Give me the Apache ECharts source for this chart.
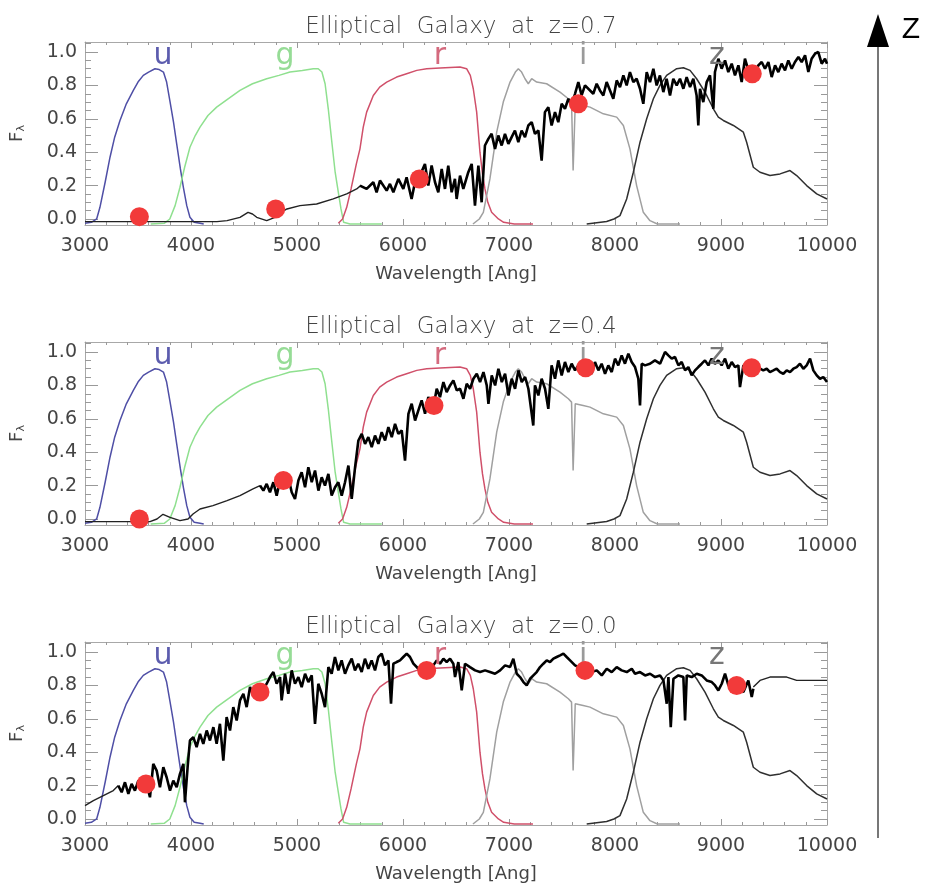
<!DOCTYPE html>
<html>
<head>
<meta charset="utf-8">
<script src="https://cdn.jsdelivr.net/npm/echarts@6/dist/echarts.min.js"></script>
<style>html,body{margin:0;padding:0;background:#fff;}#c{width:929px;height:891px;}</style>
</head>
<body>
<div id="c"></div>
<script>
// ---------- DATA ----------
const xTicks = [3000, 4000, 5000, 6000, 7000, 8000, 9000, 10000];
const yTicks = [0, 0.2, 0.4, 0.6, 0.8, 1.0];
const titles = ['Elliptical  Galaxy  at  z=0.7', 'Elliptical  Galaxy  at  z=0.4', 'Elliptical  Galaxy  at  z=0.0'];
const filterNames = ['u', 'g', 'r', 'i', 'z'];
const filterLabelPos = [[3736, 0.975], [4887, 0.975], [6349, 0.975], [7699, 0.975], [8962, 0.975]];

const filterU = [[3000,-0.025],[3060,-0.02],[3110,0.0],[3141,0.07],[3190,0.22],[3236,0.37],[3280,0.49],[3330,0.59],[3390,0.69],[3456,0.77],[3500,0.82],[3550,0.86],[3600,0.88],[3660,0.90],[3700,0.895],[3740,0.88],[3770,0.82],[3800,0.71],[3835,0.58],[3865,0.45],[3900,0.30],[3928,0.19],[3960,0.08],[3990,0.01],[4030,-0.02],[4085,-0.025],[4120,-0.03]];
const filterG = [[3620,-0.03],[3750,-0.025],[3800,0.0],[3850,0.08],[3896,0.19],[3940,0.31],[3990,0.43],[4040,0.50],[4085,0.55],[4160,0.62],[4242,0.67],[4350,0.72],[4462,0.77],[4580,0.81],[4714,0.84],[4830,0.86],[4934,0.88],[5050,0.89],[5154,0.90],[5200,0.90],[5235,0.88],[5265,0.81],[5295,0.66],[5327,0.47],[5360,0.28],[5390,0.16],[5415,0.06],[5440,-0.02],[5500,-0.03],[5800,-0.03]];
const filterR = [[5390,-0.025],[5430,0.0],[5469,0.07],[5510,0.18],[5560,0.33],[5594,0.42],[5625,0.55],[5657,0.64],[5720,0.74],[5780,0.79],[5846,0.82],[5940,0.85],[6034,0.87],[6130,0.89],[6223,0.90],[6350,0.905],[6538,0.91],[6600,0.90],[6635,0.86],[6663,0.78],[6695,0.64],[6726,0.40],[6750,0.27],[6773,0.18],[6800,0.10],[6836,0.04],[6900,0.0],[6950,-0.02],[7050,-0.03],[7226,-0.03]];
const filterI = [[6660,-0.03],[6720,0.0],[6758,0.04],[6820,0.24],[6884,0.52],[6946,0.70],[7010,0.82],[7060,0.88],[7088,0.90],[7119,0.88],[7151,0.84],[7182,0.81],[7214,0.84],[7261,0.82],[7355,0.81],[7481,0.76],[7560,0.72],[7590,0.70],[7605,0.29],[7625,0.69],[7700,0.68],[7764,0.67],[7890,0.63],[8016,0.61],[8079,0.56],[8141,0.42],[8204,0.20],[8267,0.04],[8330,-0.01],[8400,-0.03],[8613,-0.03]];
const filterZ = [[7733,-0.03],[7921,-0.015],[7990,0.0],[8047,0.02],[8110,0.12],[8173,0.28],[8236,0.46],[8299,0.60],[8362,0.72],[8424,0.80],[8487,0.86],[8582,0.90],[8645,0.906],[8708,0.89],[8770,0.84],[8849,0.76],[8928,0.66],[8975,0.61],[9022,0.59],[9117,0.56],[9211,0.52],[9242,0.46],[9305,0.31],[9368,0.28],[9462,0.26],[9557,0.27],[9651,0.29],[9714,0.26],[9808,0.20],[9903,0.15],[10000,0.12]];

// z = 0.7
const spec07Thin = [[3000,-0.016],[4245,-0.016],[4340,-0.01],[4462,0.01],[4538,0.04],[4580,0.03],[4620,0.01],[4714,-0.01],[4792,0.01],[4850,0.04],[4905,0.06],[5028,0.08],[5185,0.09],[5342,0.12],[5469,0.15],[5563,0.18],[5600,0.20]];
const spec07Thick = [[5594,0.20],[5657,0.18],[5720,0.22],[5751,0.16],[5783,0.23],[5846,0.17],[5877,0.21],[5909,0.16],[5956,0.24],[6003,0.18],[6034,0.25],[6081,0.12],[6113,0.22],[6160,0.26],[6207,0.33],[6239,0.20],[6270,0.32],[6302,0.22],[6333,0.16],[6365,0.30],[6396,0.18],[6427,0.32],[6459,0.16],[6490,0.24],[6506,0.12],[6538,0.26],[6569,0.18],[6616,0.28],[6648,0.33],[6679,0.08],[6711,0.32],[6742,0.10],[6773,0.44],[6805,0.48],[6836,0.51],[6868,0.42],[6899,0.50],[6931,0.44],[6962,0.51],[6994,0.45],[7025,0.49],[7056,0.53],[7088,0.46],[7119,0.53],[7151,0.49],[7182,0.56],[7214,0.58],[7245,0.51],[7277,0.53],[7308,0.35],[7339,0.64],[7371,0.67],[7402,0.56],[7434,0.64],[7465,0.58],[7497,0.69],[7528,0.66],[7560,0.72],[7591,0.68],[7623,0.75],[7654,0.82],[7685,0.74],[7717,0.80],[7795,0.75],[7827,0.81],[7858,0.77],[7890,0.74],[7921,0.82],[7953,0.77],[7984,0.72],[8016,0.83],[8047,0.79],[8079,0.86],[8110,0.80],[8141,0.88],[8173,0.82],[8204,0.84],[8236,0.78],[8267,0.69],[8299,0.88],[8330,0.82],[8362,0.90],[8393,0.80],[8424,0.86],[8456,0.76],[8487,0.84],[8519,0.74],[8550,0.84],[8582,0.80],[8613,0.84],[8645,0.78],[8676,0.85],[8708,0.79],[8739,0.84],[8770,0.74],[8786,0.56],[8802,0.78],[8833,0.70],[8865,0.82],[8896,0.86],[8928,0.66],[8943,0.88],[8975,0.96],[9006,0.90],[9038,0.95],[9069,0.88],[9101,0.93],[9132,0.86],[9164,0.92],[9195,0.82],[9226,0.96],[9258,0.89],[9305,0.85],[9352,0.92],[9384,0.94],[9415,0.90],[9447,0.94],[9478,0.85],[9510,0.92],[9541,0.88],[9572,0.93],[9604,0.89],[9635,0.95],[9667,0.90],[9698,0.94],[9730,0.97],[9761,0.94],[9793,0.98],[9824,0.88],[9855,0.96],[9887,0.99],[9918,1.00],[9950,0.93],[9981,0.96],[10000,0.93]];
const dots07 = [[3513,0.014],[4799,0.06],[6154,0.24],[7654,0.69],[9295,0.87]];

// z = 0.4
const spec04Thin = [[3000,-0.016],[3613,-0.016],[3679,0.0],[3736,0.028],[3802,0.01],[3896,-0.01],[3972,0.0],[4019,0.03],[4085,0.06],[4207,0.08],[4340,0.11],[4462,0.14],[4585,0.18],[4651,0.20]];
const spec04Thick = [[4651,0.20],[4683,0.17],[4714,0.21],[4745,0.16],[4777,0.22],[4808,0.14],[4840,0.23],[4887,0.19],[4918,0.25],[4950,0.16],[4981,0.12],[5013,0.23],[5044,0.28],[5076,0.19],[5107,0.31],[5139,0.22],[5170,0.29],[5202,0.17],[5233,0.25],[5264,0.20],[5296,0.27],[5327,0.14],[5359,0.19],[5390,0.22],[5422,0.14],[5453,0.22],[5485,0.32],[5516,0.12],[5548,0.31],[5579,0.47],[5611,0.51],[5642,0.45],[5673,0.49],[5705,0.43],[5736,0.50],[5768,0.45],[5799,0.52],[5831,0.47],[5862,0.55],[5894,0.49],[5925,0.57],[5956,0.51],[5988,0.53],[6019,0.35],[6051,0.63],[6082,0.69],[6114,0.59],[6145,0.65],[6176,0.71],[6208,0.63],[6239,0.73],[6287,0.67],[6318,0.78],[6349,0.73],[6381,0.82],[6412,0.76],[6444,0.80],[6475,0.83],[6507,0.77],[6538,0.78],[6570,0.72],[6601,0.81],[6633,0.78],[6664,0.84],[6696,0.87],[6727,0.82],[6759,0.88],[6790,0.80],[6806,0.69],[6837,0.86],[6869,0.80],[6900,0.90],[6932,0.82],[6963,0.87],[6995,0.74],[7026,0.84],[7057,0.78],[7089,0.89],[7120,0.82],[7152,0.85],[7183,0.78],[7198,0.78],[7229,0.56],[7245,0.80],[7277,0.74],[7308,0.84],[7340,0.78],[7371,0.66],[7402,0.92],[7434,0.84],[7465,0.95],[7497,0.86],[7528,0.94],[7560,0.88],[7591,0.93],[7623,0.89],[7654,0.92],[7717,0.90],[7780,0.87],[7811,0.94],[7843,0.89],[7874,0.93],[7906,0.87],[7937,0.92],[7969,0.88],[8000,0.96],[8031,0.92],[8063,0.98],[8094,0.93],[8126,0.99],[8157,0.94],[8189,0.91],[8220,0.84],[8236,0.68],[8252,0.93],[8283,0.92],[8330,0.93],[8377,0.95],[8425,0.93],[8472,1.00],[8503,0.98],[8535,0.96],[8566,0.97],[8598,0.92],[8629,0.94],[8661,0.89],[8692,0.91],[8723,0.86],[8755,0.89],[8786,0.91],[8818,0.93],[8849,0.95],[8881,0.92],[8912,0.96],[8943,0.93],[8975,0.95],[9006,0.92],[9038,0.96],[9069,0.90],[9101,0.94],[9132,0.91],[9164,0.92],[9179,0.79],[9211,0.92],[9290,0.90],[9368,0.90],[9399,0.89],[9431,0.90],[9462,0.88],[9494,0.89],[9525,0.90],[9557,0.88],[9588,0.87],[9620,0.89],[9651,0.88],[9683,0.90],[9714,0.91],[9745,0.93],[9777,0.90],[9808,0.92],[9840,0.96],[9871,0.89],[9903,0.86],[9934,0.84],[9965,0.85],[10000,0.82]];
const dots04 = [[3513,0.0],[4871,0.23],[6292,0.68],[7723,0.906],[9289,0.906]];

// z = 0.0
const spec00ThinL = [[3000,0.08],[3079,0.11],[3173,0.14],[3267,0.17],[3314,0.20]];
const spec00Thick = [[3314,0.20],[3346,0.16],[3377,0.22],[3409,0.15],[3440,0.21],[3471,0.17],[3503,0.23],[3534,0.18],[3581,0.21],[3613,0.13],[3644,0.33],[3676,0.29],[3707,0.19],[3739,0.31],[3770,0.25],[3802,0.17],[3833,0.23],[3865,0.19],[3896,0.27],[3928,0.33],[3943,0.10],[3968,0.31],[3990,0.47],[4022,0.49],[4053,0.43],[4085,0.51],[4116,0.45],[4148,0.53],[4179,0.47],[4211,0.55],[4242,0.45],[4273,0.57],[4305,0.35],[4336,0.61],[4368,0.53],[4399,0.67],[4431,0.59],[4462,0.71],[4494,0.75],[4525,0.67],[4557,0.79],[4588,0.74],[4651,0.76],[4714,0.81],[4745,0.85],[4777,0.88],[4808,0.81],[4840,0.85],[4855,0.71],[4887,0.87],[4918,0.75],[4950,0.89],[4981,0.81],[5013,0.85],[5044,0.79],[5076,0.87],[5107,0.82],[5139,0.86],[5170,0.57],[5201,0.81],[5233,0.75],[5264,0.67],[5296,0.91],[5327,0.87],[5358,0.97],[5390,0.89],[5421,0.95],[5453,0.87],[5484,0.92],[5516,0.96],[5547,0.89],[5578,0.93],[5610,0.88],[5641,0.96],[5673,0.90],[5704,0.95],[5736,0.89],[5767,0.97],[5799,0.99],[5830,0.92],[5862,0.95],[5887,0.69],[5909,0.93],[5940,0.94],[5972,0.95],[6003,0.97],[6035,0.99],[6066,0.97],[6098,0.93],[6145,0.90],[6224,0.89],[6255,0.87],[6286,0.92],[6318,0.95],[6349,0.93],[6381,0.96],[6412,0.94],[6444,0.96],[6475,0.93],[6491,0.85],[6522,0.94],[6554,0.77],[6585,0.93],[6632,0.91],[6680,0.89],[6727,0.88],[6774,0.89],[6821,0.88],[6868,0.87],[6916,0.89],[6963,0.92],[7010,0.91],[7041,0.96],[7073,0.87],[7104,0.85],[7136,0.82],[7167,0.80],[7199,0.84],[7230,0.86],[7261,0.88],[7293,0.91],[7324,0.93],[7356,0.95],[7387,0.94],[7419,0.96],[7450,0.97],[7482,0.98],[7513,0.99],[7544,0.97],[7576,0.95],[7623,0.92],[7717,0.89],[7780,0.88],[7828,0.89],[7875,0.86],[7922,0.90],[7969,0.88],[8016,0.91],[8063,0.89],[8111,0.88],[8158,0.90],[8189,0.87],[8236,0.88],[8284,0.86],[8331,0.87],[8378,0.85],[8425,0.86],[8457,0.83],[8488,0.69],[8504,0.85],[8526,0.55],[8551,0.84],[8598,0.86],[8645,0.85],[8661,0.59],[8677,0.86],[8724,0.85],[8771,0.87],[8818,0.86],[8865,0.83],[8913,0.82],[8944,0.80],[8975,0.77],[9007,0.81],[9038,0.87],[9070,0.80],[9148,0.79],[9211,0.76],[9258,0.83],[9290,0.73],[9305,0.78]];
const spec00ThinR = [[9305,0.79],[9368,0.83],[9462,0.85],[9620,0.85],[9714,0.83],[9840,0.83],[10000,0.83]];
const dots00 = [[3575,0.21],[4651,0.76],[6223,0.89],[7717,0.89],[9148,0.80]];

// ---------- STYLE / LAYOUT ----------
const FONT = 'DejaVu Sans';
const filterColors = ['#4f4fa6', '#8fe08f', '#d0506a', '#a0a0a0', '#303030'];
const filterLabelColors = ['#5c5cae', '#96dc96', '#d46a7e', '#9a9a9a', '#777777'];
const gridTops = [42, 342, 642];
const GL = 85, GW = 742, GH = 183;
const YMIN = -0.036, YMAX = 1.06;
const frameColor = '#a8a8a8', tickColor = '#999';

const xMinor = [];
for (let v = 3000; v <= 10000; v += 200) xMinor.push(v);
const yMinor = [];
for (let k = 0; k <= 21; k++) yMinor.push(+(k * 0.05).toFixed(2));

const filters = [filterU, filterG, filterR, filterI, filterZ];
const panelData = [
  { thin: [spec07Thin], thick: spec07Thick, dots: dots07 },
  { thin: [spec04Thin], thick: spec04Thick, dots: dots04 },
  { thin: [spec00ThinL, spec00ThinR], thick: spec00Thick, dots: dots00 }
];

const grid = [], xAxis = [], yAxis = [], series = [], title = [];

gridTops.forEach((top, g) => {
  grid.push({ left: GL, top: top, width: GW, height: GH });
  title.push({
    text: titles[g], left: 456, textAlign: 'center', top: top - 31,
    textStyle: { fontFamily: FONT, fontSize: 23, fontWeight: 200, color: '#444' }
  });
  const baseX = { gridIndex: g, type: 'value', min: 3000, max: 10000, splitLine: { show: false } };
  const baseY = { gridIndex: g, type: 'value', min: YMIN, max: YMAX, splitLine: { show: false } };
  xAxis.push(Object.assign({}, baseX, {
    position: 'bottom',
    axisLine: { show: true, onZero: false, lineStyle: { color: frameColor, width: 1 } },
    axisTick: { show: true, inside: true, length: 6, customValues: xTicks, lineStyle: { color: tickColor } },
    axisLabel: { show: true, customValues: xTicks, margin: 12, fontFamily: FONT, fontSize: 19, color: '#444',
      formatter: v => String(Math.round(v)) },
    name: 'Wavelength [Ang]', nameLocation: 'middle', nameGap: 40,
    nameTextStyle: { fontFamily: FONT, fontSize: 18, color: '#444' }
  }));
  xAxis.push(Object.assign({}, baseX, {
    position: 'top',
    axisLine: { show: true, onZero: false, lineStyle: { color: frameColor, width: 1 } },
    axisTick: { show: true, inside: true, length: 6, customValues: xTicks, lineStyle: { color: tickColor } },
    axisLabel: { show: false }
  }));
  ['bottom', 'top'].forEach(pos => xAxis.push(Object.assign({}, baseX, {
    position: pos,
    axisLine: { show: false, onZero: false },
    axisTick: { show: true, inside: true, length: 3, customValues: xMinor, lineStyle: { color: tickColor } },
    axisLabel: { show: false }
  })));
  yAxis.push(Object.assign({}, baseY, {
    position: 'left',
    axisLine: { show: true, onZero: false, lineStyle: { color: frameColor, width: 1 } },
    axisTick: { show: true, inside: true, length: 13, customValues: yTicks, lineStyle: { color: tickColor } },
    axisLabel: { show: true, customValues: yTicks, margin: 8, fontFamily: FONT, fontSize: 19, color: '#444',
      formatter: v => v.toFixed(1) },
    name: 'F{s|λ}', nameLocation: 'middle', nameGap: 58, nameRotate: 90,
    nameTextStyle: { fontFamily: FONT, fontSize: 18, color: '#444',
      rich: { s: { fontFamily: FONT, fontSize: 11, color: '#444', verticalAlign: 'bottom', padding: [8, 0, 0, 0] } } }
  }));
  yAxis.push(Object.assign({}, baseY, {
    position: 'right',
    axisLine: { show: true, onZero: false, lineStyle: { color: frameColor, width: 1 } },
    axisTick: { show: true, inside: true, length: 13, customValues: yTicks, lineStyle: { color: tickColor } },
    axisLabel: { show: false }
  }));
  ['left', 'right'].forEach(pos => yAxis.push(Object.assign({}, baseY, {
    position: pos,
    axisLine: { show: false, onZero: false },
    axisTick: { show: true, inside: true, length: 6, customValues: yMinor, lineStyle: { color: tickColor } },
    axisLabel: { show: false }
  })));

  const xi = g * 4, yi = g * 4;
  filters.forEach((f, k) => {
    series.push({
      type: 'line', xAxisIndex: xi, yAxisIndex: yi, data: f, showSymbol: false, symbol: 'none',
      lineStyle: { color: filterColors[k], width: 1.5 }, z: 2, silent: true
    });
  });
  panelData[g].thin.forEach(t => series.push({
    type: 'line', xAxisIndex: xi, yAxisIndex: yi, data: t, showSymbol: false, symbol: 'none',
    lineStyle: { color: '#222', width: 1.4 }, z: 3, silent: true
  }));
  series.push({
    type: 'line', xAxisIndex: xi, yAxisIndex: yi, data: panelData[g].thick, showSymbol: false, symbol: 'none',
    lineStyle: { color: '#000', width: 2.6 }, z: 4, silent: true
  });
  series.push({
    type: 'scatter', xAxisIndex: xi, yAxisIndex: yi, data: panelData[g].dots, symbolSize: 19,
    itemStyle: { color: '#f23a3a', opacity: 1 }, z: 6, silent: true
  });
  series.push({
    type: 'scatter', xAxisIndex: xi, yAxisIndex: yi, symbolSize: 0, z: 5, silent: true,
    itemStyle: { color: 'rgba(0,0,0,0)' },
    data: filterLabelPos.map((p, k) => ({
      name: filterNames[k], value: p,
      label: { show: true, position: 'inside', formatter: '{b}', fontFamily: FONT, fontSize: 30,
        fontWeight: 'normal', color: filterLabelColors[k], opacity: 1 }
    }))
  });
});

const chart = echarts.init(document.getElementById('c'), null, { renderer: 'canvas' });
chart.setOption({
  animation: false,
  backgroundColor: '#fff',
  textStyle: { fontFamily: FONT },
  title: title,
  grid: grid,
  xAxis: xAxis,
  yAxis: yAxis,
  series: series,
  graphic: [
    { type: 'line', shape: { x1: 878, y1: 44, x2: 878, y2: 838 }, style: { stroke: '#555', lineWidth: 1.6 } },
    { type: 'polygon', shape: { points: [[878, 14], [867, 47], [889, 47]] }, style: { fill: '#000' } },
    { type: 'text', x: 911, y: 30, style: { text: 'Z', fontFamily: 'Liberation Sans', fontSize: 30, fill: '#000',
      align: 'center', verticalAlign: 'middle' } }
  ]
});
</script>
</body>
</html>
